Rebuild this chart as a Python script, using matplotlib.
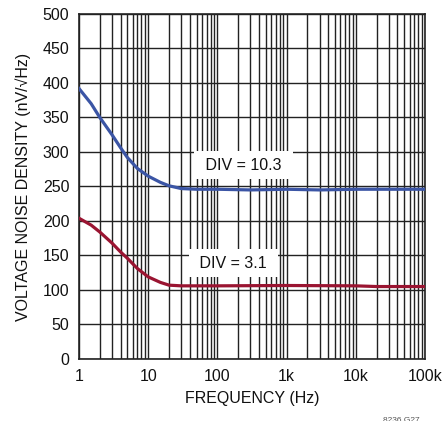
import matplotlib
matplotlib.use('Agg')
import matplotlib.pyplot as plt
from matplotlib.ticker import FixedLocator, FixedFormatter, NullFormatter, LogLocator

plt.rcParams['font.family'] = ['Liberation Sans', 'DejaVu Sans']

# noise density vs frequency for two divider settings
freqDiv10 = [1, 1.5, 2, 3, 4, 5, 7, 10, 15, 20, 30, 50, 100, 300, 1000, 3000, 10000, 30000, 100000]
noiseDiv10 = [392, 370, 350, 325, 306, 292, 276, 265, 256, 251, 247, 246, 246, 245, 246, 245, 246, 246, 246]

freqDiv3 = [1, 1.5, 2, 3, 4, 5, 7, 10, 15, 20, 30, 50, 100, 1000, 10000, 20000, 100000]
noiseDiv3 = [204, 194, 184, 168, 155, 146, 131, 119, 111, 107, 106, 106, 106, 106.5, 106, 105, 105]

xTicks = [1, 10, 100, 1000, 10000, 100000]
xTickLabels = ['1', '10', '100', '1k', '10k', '100k']
yTicks = list(range(0, 501, 50))

labels = ['DIV = 10.3', 'DIV = 3.1']
labelPos = [(240, 281), (170, 139)]

fs = 11.5

fig = plt.figure(figsize=(4.43, 4.21), dpi=100)
ax = fig.add_axes([0.1783, 0.1473, 0.7810, 0.8195])

ax.plot(freqDiv10, noiseDiv10, color='#3b55a5', lw=2.3, zorder=3)
ax.plot(freqDiv3, noiseDiv3, color='#9a1431', lw=2.3, zorder=3)

ax.set_xscale('log')
ax.set_xlim(1, 100000)
ax.set_ylim(0, 500)

ax.xaxis.set_major_locator(FixedLocator(xTicks))
ax.xaxis.set_major_formatter(FixedFormatter(xTickLabels))
ax.xaxis.set_minor_locator(LogLocator(base=10, subs=range(2, 10), numticks=20))
ax.xaxis.set_minor_formatter(NullFormatter())
ax.set_yticks(yTicks)

ax.grid(True, which='both', axis='x', color='#222222', lw=1.0)
ax.grid(True, which='major', axis='y', color='#222222', lw=1.0)
ax.tick_params(which='both', length=0, labelsize=fs, colors='#111111', pad=7)
for s in ax.spines.values():
    s.set_color('#222222')
    s.set_linewidth(1.2)

for txt, (fx, fy) in zip(labels, labelPos):
    ax.text(fx, fy, ' ' + txt + ' ', fontsize=fs, ha='center', va='center', zorder=4,
            color='#111111', bbox=dict(boxstyle='square,pad=0.42', fc='white', ec='none'))

ax.set_xlabel('FREQUENCY (Hz)', fontsize=fs, labelpad=5, color='#111111')
ax.set_ylabel('VOLTAGE NOISE DENSITY (nV/\u221aHz)', fontsize=fs, labelpad=8, color='#111111')

fig.text(0.905, 0.0, '8236 G27', fontsize=6, color='#555555', ha='center', va='center')

fig.savefig('out.png', dpi=100)
